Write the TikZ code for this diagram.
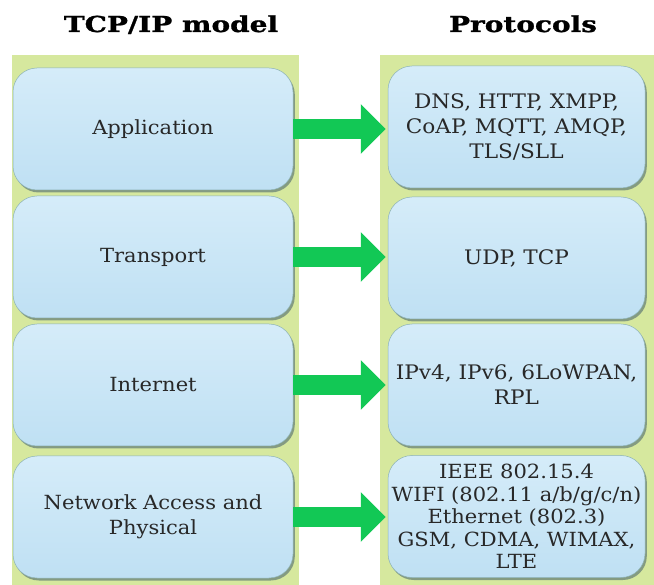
\documentclass[tikz,border=0pt]{standalone}
\usepackage{fontspec}
\setmainfont{DejaVu Serif}[FakeStretch=1.08]
\newfontfamily\headfont{DejaVu Serif}[FakeStretch=1.27, FakeBold=1.2]
\usetikzlibrary{arrows.meta,shadows}
\definecolor{panelgreen}{RGB}{214,232,158}
\definecolor{boxtop}{RGB}{213,236,249}
\definecolor{boxbot}{RGB}{191,224,243}
\definecolor{boxedge}{RGB}{140,178,180}
\definecolor{shadowcol}{RGB}{105,130,120}
\definecolor{arrowgreen}{RGB}{18,200,85}
\definecolor{txt}{RGB}{40,40,40}
\begin{document}
\begin{tikzpicture}[x=1pt,y=-1pt,
  panel/.style={fill=panelgreen, draw=none},
  layer/.style={rectangle, rounded corners=24pt, top color=boxtop, bottom color=boxbot,
    draw=boxedge, line width=0.5pt,
    drop shadow={shadow xshift=1.8pt, shadow yshift=-2.5pt, fill=shadowcol, opacity=0.75},
    text=txt, align=center, inner sep=0pt, minimum height=122pt},
  leftbox/.style={layer, minimum width=280pt, font=\fontsize{19.5}{25}\selectfont},
  rightbox/.style={layer, minimum width=257pt, font=\fontsize{20}{25}\selectfont},
  title/.style={font=\headfont\bfseries\fontsize{22}{26}\selectfont, text=black, anchor=base},
  link/.style={draw=arrowgreen, line width=20pt,
    -{Triangle[length=25pt,width=48pt,fill=arrowgreen]}, shorten >=2pt}
]
\useasboundingbox (0,0) rectangle (654,585);
\fill[white] (0,0) rectangle (654,585);

% column backgrounds
\fill[panel] (12,55) rectangle (299,585);
\fill[panel] (380,55) rectangle (654,585);

% column headings
\node[title] (hmodel) at (171,32) {TCP/IP model};
\node[title] (hproto) at (523,32) {Protocols};

% layers of the model
\node[leftbox] (app) at (153,129) {Application};
\node[leftbox] (trans) at (153,257) {Transport};
\node[leftbox] (inet) at (153,385) {Internet};
\node[leftbox] (net) at (153,517) {Network Access and\\Physical};

% protocols of each layer
\node[rightbox] (papp) at (516.5,127) {DNS, HTTP, XMPP,\\CoAP, MQTT, AMQP,\\TLS/SLL};
\node[rightbox] (ptrans) at (516.5,258) {UDP, TCP};
\node[rightbox] (pinet) at (516.5,385) {IPv4, IPv6, 6LoWPAN,\\RPL};
\node[rightbox, font=\fontsize{19.5}{22.5}\selectfont] (pnet) at (516.5,516.5)
  {IEEE 802.15.4\\WIFI (802.11 a/b/g/c/n)\\Ethernet (802.3)\\GSM, CDMA, WIMAX,\\LTE};

% arrows from layer to protocols
\draw[link] (app.east) -- (papp.west |- app.east);
\draw[link] (trans.east) -- (ptrans.west |- trans.east);
\draw[link] (inet.east) -- (pinet.west |- inet.east);
\draw[link] (net.east) -- (pnet.west |- net.east);
\end{tikzpicture}
\end{document}
